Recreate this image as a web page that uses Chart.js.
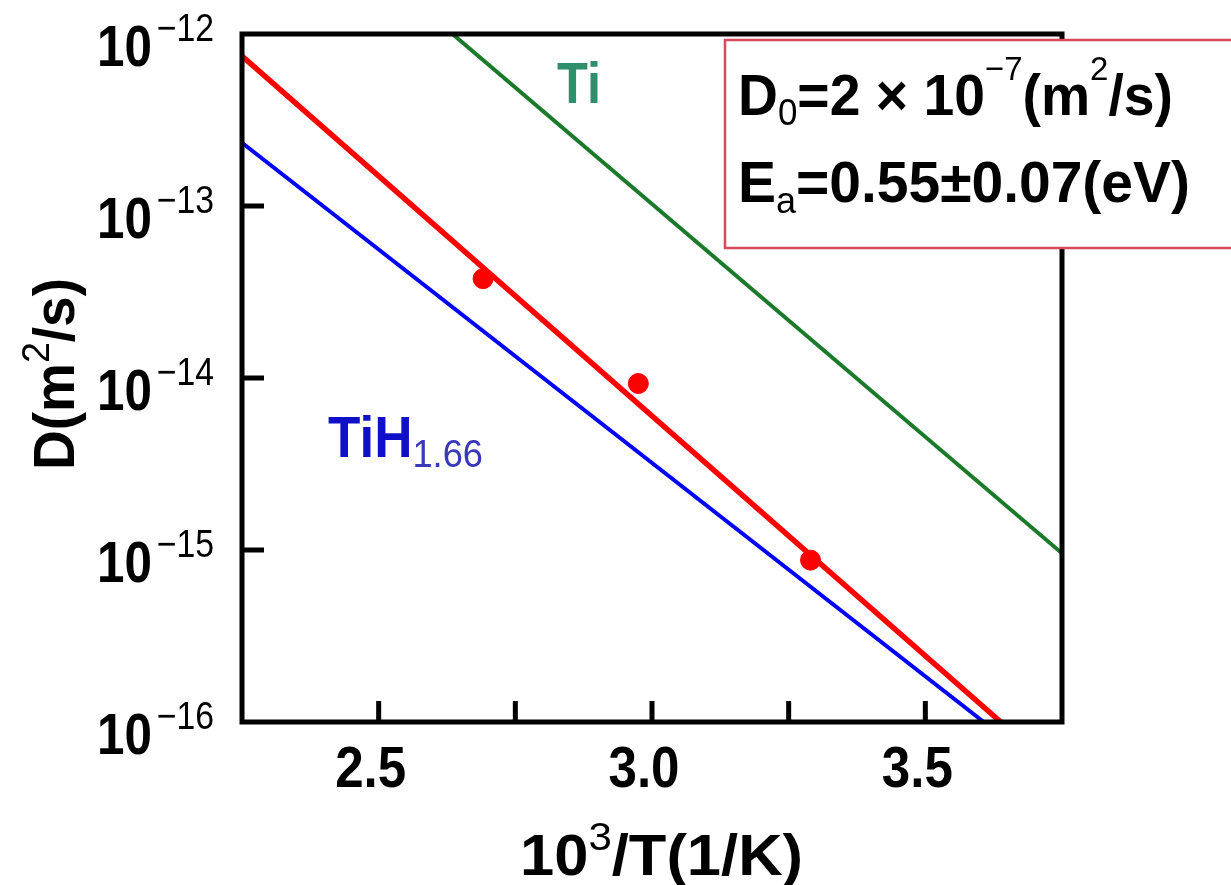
<!DOCTYPE html>
<html>
<head>
<meta charset="utf-8">
<script src="https://cdn.jsdelivr.net/npm/chart.js@4.4.0/dist/chart.umd.min.js"></script>
<style>
  html, body { margin: 0; padding: 0; background: #fff; }
  canvas { display: block; }
</style>
</head>
<body>
<canvas id="diffChart" width="1231" height="885"></canvas>
<script>
// values
const pointX = [2.691, 2.975, 3.290];          // 10^3/T of measured points
const pointD = [3.78e-14, 9.29e-15, 8.73e-16];  // D (m^2/s)

const fitX = [2.25, 3.638];          // red fit line
const fitD = [7.45e-13, 1e-16];
const tihX = [2.25, 3.607];          // TiH1.66 line
const tihD = [2.33e-13, 1e-16];
const tiX = [2.635, 3.75];           // Ti line
const tiD = [1e-12, 9.57e-16];

const xTicks = [2.5, 2.75, 3.0, 3.25, 3.5];
const xLabels = ["2.5", "3.0", "3.5"];
const yTicks = [1e-12, 1e-13, 1e-14, 1e-15, 1e-16];
const yExp = ["−12", "−13", "−14", "−15", "−16"];

const FAM = '"Liberation Sans", Arial, sans-serif';

function toXY(xs, ys) {
    return xs.map((x, i) => ({ x: x, y: ys[i] }));
}

// draws a run of text pieces (bold / normal, raised / lowered), squeezed to a width
function richText(ctx, parts, x, y, opt) {
    let total = 0;
    const widths = parts.map(p => {
        ctx.font = (p.bold ? "bold " : "") + p.size + "px " + FAM;
        const w = ctx.measureText(p.t).width;
        total += w;
        return w;
    });
    const sx = opt.width ? opt.width / total : (opt.sx || 1);
    let start = 0;
    if (opt.align === "right") start = -total * sx;
    if (opt.align === "center") start = -total * sx / 2;
    ctx.save();
    ctx.translate(x, y);
    if (opt.rotate) ctx.rotate(opt.rotate);
    ctx.translate(start, 0);
    ctx.scale(sx, 1);
    ctx.textBaseline = "alphabetic";
    ctx.textAlign = "left";
    let cur = 0;
    parts.forEach((p, i) => {
        ctx.font = (p.bold ? "bold " : "") + p.size + "px " + FAM;
        ctx.fillStyle = p.color || opt.color || "#000";
        ctx.fillText(p.t, cur, p.dy || 0);
        cur += widths[i];
    });
    ctx.restore();
}

const decorPlugin = {
    id: "decor",
    afterDatasetsDraw(chart) {
        const ctx = chart.ctx;
        const a = chart.chartArea;
        const xs = chart.scales.x;
        const ys = chart.scales.y;

        // frame
        ctx.save();
        ctx.strokeStyle = "#000";
        ctx.lineWidth = 5;
        ctx.strokeRect(a.left, a.top, a.right - a.left, a.bottom - a.top);

        // inward tick marks
        ctx.lineWidth = 5;
        xTicks.forEach(v => {
            const px = xs.getPixelForValue(v);
            ctx.beginPath();
            ctx.moveTo(px, a.bottom);
            ctx.lineTo(px, a.bottom - 21);
            ctx.stroke();
        });
        yTicks.slice(1, -1).forEach(v => {
            const py = ys.getPixelForValue(v);
            ctx.beginPath();
            ctx.moveTo(a.left, py);
            ctx.lineTo(a.left + 22, py);
            ctx.stroke();
        });
        ctx.restore();

        // y tick labels 10^n
        yTicks.forEach((v, i) => {
            const py = ys.getPixelForValue(v);
            richText(ctx, [
                { t: "10", bold: true, size: 57 },
                { t: " ", size: 20 },
                { t: yExp[i], size: 39, dy: -25 }
            ], 214, py + 32, { align: "right", width: 117 });
        });

        // x tick labels
        xLabels.forEach(s => {
            const px = xs.getPixelForValue(parseFloat(s));
            richText(ctx, [{ t: s, bold: true, size: 57 }], px - 8, a.bottom + 65,
                { align: "center", width: 71 });
        });

        // axis titles
        richText(ctx, [
            { t: "10", bold: true, size: 57 },
            { t: "3", size: 39, dy: -25 },
            { t: "/T(1/K)", bold: true, size: 57 }
        ], 520, 875, { align: "left", width: 283 });

        richText(ctx, [
            { t: "D(m", bold: true, size: 57 },
            { t: "2", size: 39, dy: -25 },
            { t: "/s)", bold: true, size: 57 }
        ], 74, 470, { align: "left", width: 192, rotate: -Math.PI / 2 });

        // curve labels
        richText(ctx, [{ t: "Ti", bold: true, size: 57 }], 557, 103,
            { align: "left", width: 44, color: "#2f8f6a" });
        richText(ctx, [
            { t: "TiH", bold: true, size: 57, color: "#1010c8" },
            { t: "1.66", size: 39, dy: 10, color: "#3838b8" }
        ], 328, 457, { align: "left", width: 155 });

        // parameter box
        ctx.save();
        ctx.fillStyle = "#fff";
        ctx.strokeStyle = "#d84a5a";
        ctx.lineWidth = 2.5;
        ctx.fillRect(725, 40, 520, 208);
        ctx.strokeRect(725, 40, 520, 208);
        ctx.restore();

        richText(ctx, [
            { t: "D", bold: true, size: 57 },
            { t: "0", size: 36, dy: 10 },
            { t: "=2 × 10", bold: true, size: 57 },
            { t: "−7", size: 34, dy: -35 },
            { t: "(m", bold: true, size: 57 },
            { t: "2", size: 34, dy: -35 },
            { t: "/s)", bold: true, size: 57 }
        ], 738, 115, { align: "left", width: 435 });

        richText(ctx, [
            { t: "E", bold: true, size: 57 },
            { t: "a", size: 36, dy: 11 },
            { t: "=0.55±0.07(eV)", bold: true, size: 57 }
        ], 738, 202, { align: "left", width: 452 });
    }
};

const diffChart = document.getElementById("diffChart");

new Chart(diffChart, {
    type: "scatter",
    data: {
        datasets: [
            {
                label: "Ti",
                data: toXY(tiX, tiD),
                showLine: true,
                borderColor: "#1a7a2a",
                borderWidth: 4,
                pointRadius: 0
            },
            {
                label: "TiH1.66",
                data: toXY(tihX, tihD),
                showLine: true,
                borderColor: "#0000ff",
                borderWidth: 4,
                pointRadius: 0
            },
            {
                label: "fit",
                data: toXY(fitX, fitD),
                showLine: true,
                borderColor: "#ff0000",
                borderWidth: 5.5,
                pointRadius: 0
            },
            {
                label: "measured",
                data: toXY(pointX, pointD),
                showLine: false,
                backgroundColor: "#ff0000",
                borderColor: "#ff0000",
                pointRadius: 10
            }
        ]
    },
    options: {
        responsive: false,
        animation: false,
        devicePixelRatio: 1,
        layout: { padding: { left: 242, top: 34, right: 169, bottom: 163 } },
        plugins: {
            legend: { display: false },
            tooltip: { enabled: false }
        },
        scales: {
            x: { type: "linear", display: false, min: 2.25, max: 3.75 },
            y: { type: "logarithmic", display: false, min: 1e-16, max: 1e-12 }
        }
    },
    plugins: [decorPlugin]
});
</script>
</body>
</html>
